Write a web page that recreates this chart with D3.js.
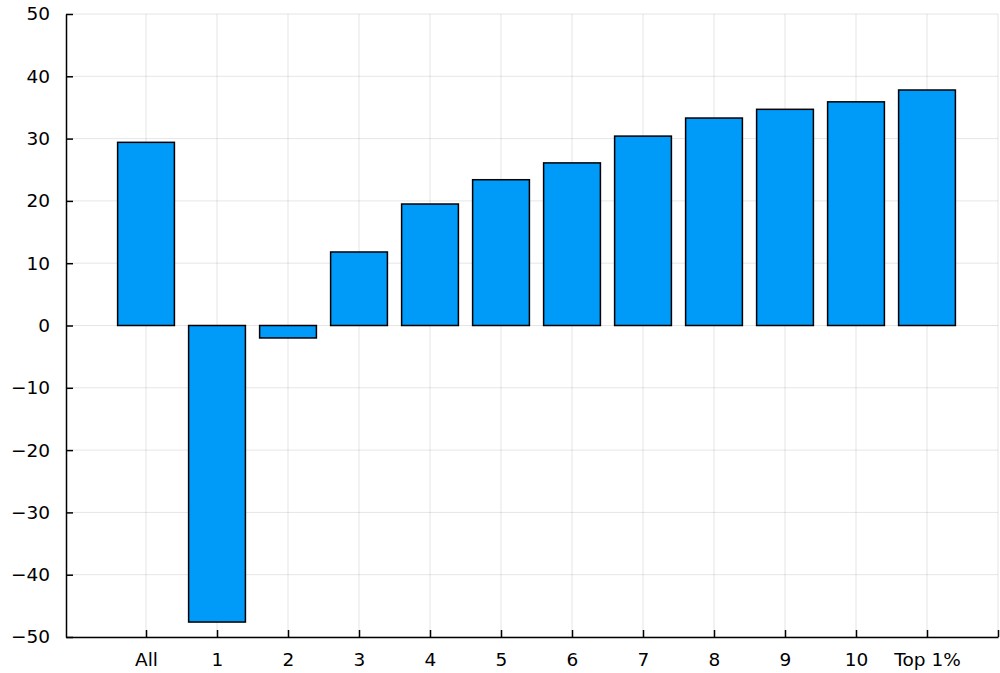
<!DOCTYPE html>
<html><head><meta charset="utf-8">
<script src="https://cdn.jsdelivr.net/npm/d3@7"></script>
<style>body{margin:0;background:#fff}svg{display:block}text{font-family:"DejaVu Sans",sans-serif}</style>
</head><body>
<svg id="c" width="1000" height="673"></svg>
<script>
const categories = ["All","1","2","3","4","5","6","7","8","9","10","Top 1%"];
const values = [29.4, -47.6, -2.0, 11.8, 19.5, 23.4, 26.1, 30.4, 33.3, 34.7, 35.9, 37.8];
const yTicks = [-50,-40,-30,-20,-10,0,10,20,30,40,50];
const xTickLabels = categories.concat([""]);

const svg = d3.select("#c");
const L = 66, R = 998, T = 14, B = 637;
const x = d3.scaleLinear().domain([-1.127, 12]).range([L, R]);
const y = d3.scaleLinear().domain([-50, 50]).range([B, T]);
const fmt = v => v < 0 ? "\u2212" + Math.abs(v) : String(v);

// grid
const g = svg.append("g");
g.selectAll(".gy").data(yTicks).enter().append("line")
  .attr("x1", L).attr("x2", R).attr("y1", d => y(d)).attr("y2", d => y(d))
  .attr("stroke", "#000").attr("stroke-opacity", 0.1).attr("stroke-width", 1);
g.selectAll(".gx").data(d3.range(13)).enter().append("line")
  .attr("y1", T).attr("y2", B).attr("x1", d => x(d)).attr("x2", d => x(d))
  .attr("stroke", "#000").attr("stroke-opacity", 0.1).attr("stroke-width", 1);

// bars
const bw = 0.8;
svg.append("g").selectAll("rect").data(values).enter().append("rect")
  .attr("x", (d, i) => x(i - bw / 2))
  .attr("width", x(bw) - x(0))
  .attr("y", d => y(Math.max(0, d)))
  .attr("height", d => Math.abs(y(d) - y(0)))
  .attr("fill", "#009af9").attr("stroke", "#000").attr("stroke-width", 1.5);

// axes
const yAxis = d3.axisLeft(y).tickValues(yTicks).tickFormat(fmt).tickSizeInner(-7).tickSizeOuter(0).tickPadding(16);
const ya = svg.append("g").attr("transform", `translate(${L},0)`).call(yAxis);
const xAxis = d3.axisBottom(x).tickValues(d3.range(13)).tickFormat(i => xTickLabels[i]).tickSizeInner(-7).tickSizeOuter(0).tickPadding(16);
const xa = svg.append("g").attr("transform", `translate(0,${B})`).call(xAxis);
[ya, xa].forEach(a => {
  a.selectAll("path.domain").attr("stroke", "#000").attr("stroke-width", 1.5);
  a.selectAll(".tick line").attr("stroke", "#000").attr("stroke-width", 1.5);
  a.selectAll("text").attr("font-size", 18.5).attr("fill", "#000").attr("font-family", "DejaVu Sans");
});
</script>
</body></html>
